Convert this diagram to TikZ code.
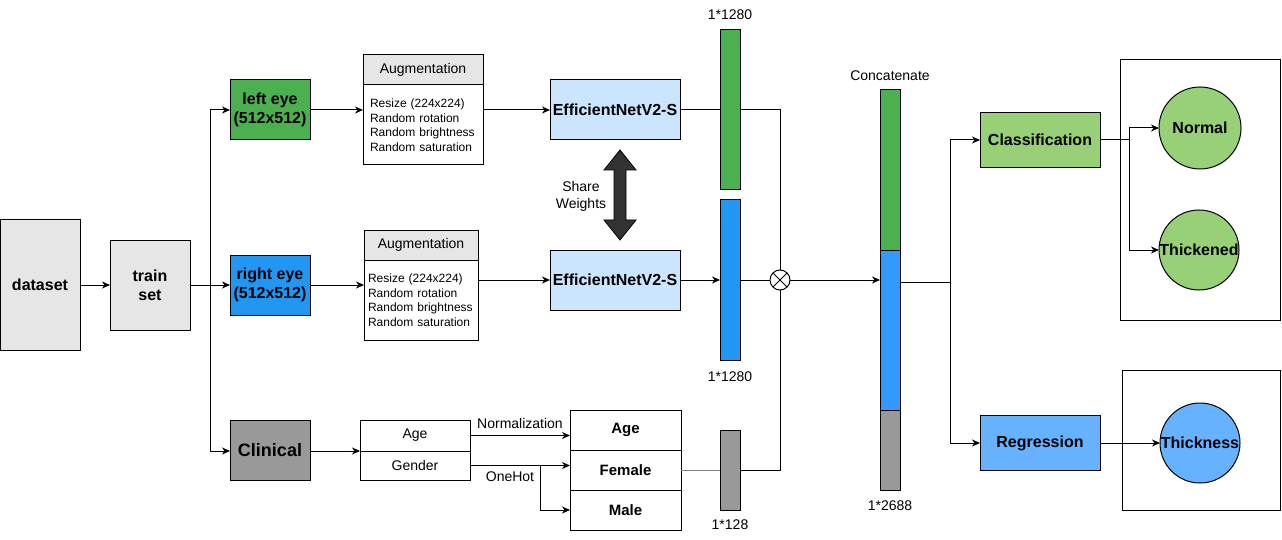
\documentclass[tikz,border=0pt]{standalone}
\usepackage{fontspec}
\setmainfont{Liberation Sans}
\usetikzlibrary{arrows.meta,calc}
\definecolor{lgray}{HTML}{E6E6E6}
\definecolor{eyegreen}{HTML}{4CAF50}
\definecolor{eyeblue}{HTML}{2196F3}
\definecolor{effblue}{HTML}{CCE5FF}
\definecolor{clingray}{HTML}{999999}
\definecolor{clsgreen}{HTML}{97D077}
\definecolor{regblue}{HTML}{66B2FF}
\definecolor{catblue}{HTML}{3399FF}
\definecolor{darkarrow}{HTML}{333333}
\begin{document}
\begin{tikzpicture}[x=1pt,y=-1pt,line width=1pt,
  every node/.style={inner sep=0pt,outer sep=0pt},
  bx/.style={draw,line width=1pt,align=center},
  sz/.style 2 args={minimum width=#1,minimum height=#2},
  bt/.style={font=\fontsize{16}{19}\selectfont\bfseries},
  mt/.style={font=\fontsize{15}{18}\selectfont\bfseries},
  lt/.style={font=\fontsize{14}{17}\selectfont},
  st/.style={font=\fontsize{12}{14.5}\selectfont},
  arr/.style={-{Stealth[length=8pt,width=7pt,inset=2.5pt]}},
  circ/.style={draw,circle,line width=1pt}]
\useasboundingbox (0,0) rectangle (1282,540);

% left column
\node[bx,fill=lgray,sz={80}{130},bt] (dataset) at (40,285) {dataset};
\node[bx,fill=lgray,sz={80}{90},bt] (train) at (150,285) {train\\set};
\node[bx,fill=eyegreen,sz={80}{60},bt] (leye) at (270,110) {left eye\\(512x512)};
\node[bx,fill=eyeblue,sz={80}{60},bt] (reye) at (270,285) {right eye\\(512x512)};
\node[bx,fill=clingray,sz={80}{60},font=\fontsize{18}{21}\selectfont\bfseries] (clin) at (270,450) {Clinical};

% augmentation boxes
\node[bx,fill=lgray,sz={120}{30},lt] (augTh) at (423,70) {Augmentation};
\node[bx,sz={120}{80},st,text width=106,inner xsep=7pt,align=left] (augTb) at (423,125)
  {Resize (224x224)\\Random rotation\\Random brightness\\Random saturation};
\node[bx,fill=lgray,sz={114}{30},lt] (augBh) at (421,245) {Augmentation};
\node[bx,sz={114}{80},st,text width=106,inner xsep=4pt,align=left] (augBb) at (421,300)
  {Resize (224x224)\\Random rotation\\Random brightness\\Random saturation};

% EfficientNet
\node[bx,fill=effblue,sz={130}{60},bt] (effT) at (615,110) {EfficientNetV2-S};
\node[bx,fill=effblue,sz={130}{60},bt] (effB) at (615,280) {EfficientNetV2-S};
\draw[fill=darkarrow,line width=0.8pt] (620,150) -- (636,170) -- (626,170) -- (626,220) -- (636,220)
  -- (620,240) -- (604,220) -- (614,220) -- (614,170) -- (604,170) -- cycle;
\node[lt,align=center] (sw) at (581,196.5) {Share\\Weights};

% feature vectors
\node[bx,fill=eyegreen,sz={20}{160}] (vG) at (730,110) {};
\node[bx,fill=eyeblue,sz={20}{160}] (vB) at (730,280) {};
\node[bx,fill=clingray,sz={20}{80}] (vGr) at (730,470) {};
\node[lt] (lvG) at (730,15) {1*1280};
\node[lt] (lvB) at (730,377) {1*1280};
\node[lt] (lvGr) at (730,525) {1*128};

% clinical tables
\node[bx,sz={110}{31},lt] (ageA) at (415,435.5) {Age};
\node[bx,sz={110}{29},lt] (genA) at (415,465.5) {Gender};
\node[bx,sz={111}{40},mt] (age2) at (625.5,430) {Age};
\node[bx,sz={111}{40},mt] (fem) at (625.5,470) {Female};
\node[bx,sz={111}{40},mt] (male) at (625.5,510) {Male};

% multiply
\node[circ,fill=white,minimum size=20] (mul) at (780,280) {};
\draw (mul.north east) -- (mul.south west) (mul.north west) -- (mul.south east);

% concatenated vector
\node[bx,fill=eyegreen,sz={20}{160}] (cG) at (890,170) {};
\node[bx,fill=catblue,sz={20}{160}] (cB) at (890,330) {};
\node[bx,fill=clingray,sz={20}{80}] (cGr) at (890,450) {};
\node[lt] (lcat) at (890,76) {Concatenate};
\node[lt] (lcat2) at (890,506) {1*2688};

% heads
\node[bx,fill=clsgreen,sz={120}{55},bt] (cls) at (1040,140) {Classification};
\node[bx,fill=regblue,sz={120}{55},bt] (reg) at (1040,443) {Regression};
\node[draw,sz={160}{260}] (frameC) at (1200,190) {};
\node[draw,sz={158}{140}] (frameR) at (1201,440) {};
\node[circ,fill=clsgreen,minimum size=82,bt] (norm) at (1200,128) {Normal};
\node[circ,fill=clsgreen,minimum size=80,bt] (thick) at (1199,250) {Thickened};
\node[circ,fill=regblue,minimum size=80,bt] (thk) at (1200,443) {Thickness};

% connectors
\draw[arr] (dataset) -- (train);
\coordinate (sp) at (210,285);
\draw (train) -- (sp);
\draw[arr] (sp) |- (leye);
\draw[arr] (sp) -- (reye);
\draw[arr] (sp) |- (clin.west |- ageA.south west);
\draw[arr] (leye) -- (augTb.west |- leye);
\draw[arr] (augTb.east |- effT) -- (effT);
\draw[arr] (reye) -- (augBb.west |- reye);
\draw[arr] (augBb.east |- effB) -- (effB);
\draw (effT) -- (vG);
\draw (vG.east) -| (mul.north);
\draw[arr] (effB) -- (vB);
\draw (vB) -- (mul);
\draw[arr] (mul) -- (cB.west |- mul);
\draw[arr] (clin.east |- ageA.south west) -- (ageA.south west);
\draw[arr] (ageA) -- node[midway,above=7pt,lt] {Normalization} (age2.west |- ageA);
\draw[arr] (genA) -- (fem.west |- genA);
\node[lt] (oh) at (510,477) {OneHot};
\coordinate (sp4) at (540,465.5);
\draw[arr] (sp4) |- (male);
\draw[gray] (fem) -- (vGr);
\draw (vGr.east) -| (mul.south);
\coordinate (sp2) at (950,282);
\draw (cB.east |- sp2) -- (sp2);
\draw[arr] (sp2) |- (cls);
\draw[arr] (sp2) |- (reg);
\coordinate (sp3) at (1129,140);
\draw (cls) -- (sp3);
\draw[arr] (sp3) |- (norm);
\draw[arr] (sp3) |- (thick);
\draw[arr] (reg) -- (thk);
\end{tikzpicture}
\end{document}
